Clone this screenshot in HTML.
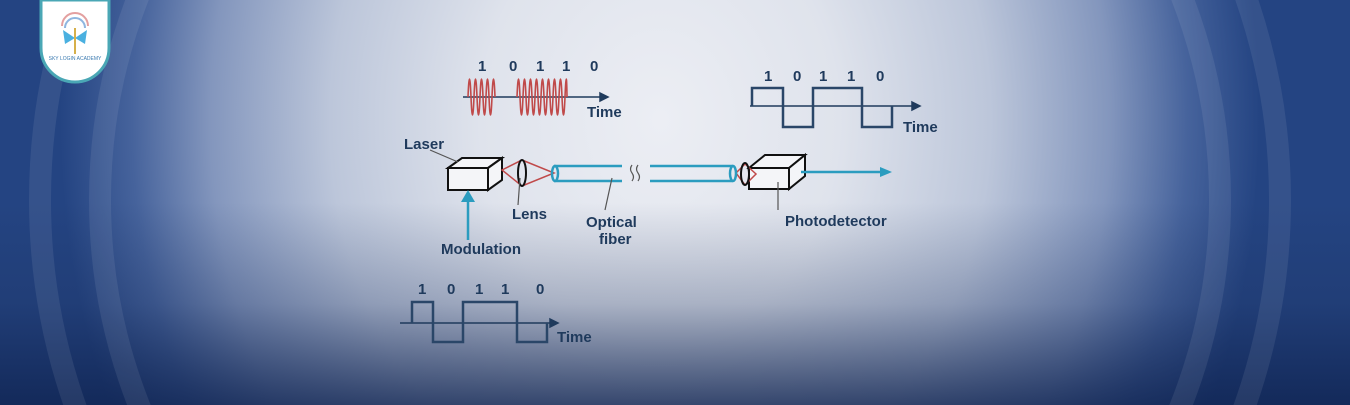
<!DOCTYPE html>
<html><head><meta charset="utf-8"><style>
body{margin:0;width:1350px;height:405px;overflow:hidden;font-family:"Liberation Sans",sans-serif;position:relative}
#bg{position:absolute;left:0;top:0;width:1350px;height:405px;
background:radial-gradient(ellipse 600px 720px at 660px 120px,#eceef4 0%,#dfe3ec 30%,#bcc6da 55%,#8396bd 75%,#46639c 88%,#244482 100%)}
#shade{position:absolute;left:0;top:0;width:1350px;height:405px;background:linear-gradient(to bottom,rgba(0,0,0,0) 50%,rgba(25,45,90,.28) 75%,rgba(15,35,80,.8) 100%)}
svg{position:absolute;left:0;top:0;overflow:hidden}
</style></head><body>
<div id="bg"></div><div id="shade"></div>
<svg width="1350" height="405" viewBox="0 0 1350 405">
<g fill="none" stroke="#ffffff" stroke-opacity=".08" stroke-width="22">
<ellipse cx="660" cy="200" rx="560" ry="560"/>
<ellipse cx="660" cy="200" rx="620" ry="620"/>
</g>
<!-- logo -->
<path d="M41 0 V48 A34 34 0 0 0 109 48 V0 Z" fill="#fff" stroke="#4aa7b5" stroke-width="3"/>
<path d="M62 26 A13 13 0 0 1 88 26" fill="none" stroke="#e3a0a0" stroke-width="2"/>
<path d="M65 28 A10 10 0 0 1 85 28" fill="none" stroke="#8fb6e0" stroke-width="2"/>
<path d="M75 38 l-12 -8 l2 14z M75 38 l12 -8 l-2 14z" fill="#4ab0e0"/>
<rect x="74" y="28" width="2" height="26" fill="#d6b04a"/>
<text x="75" y="60" font-size="5" text-anchor="middle" fill="#3a7ab0">SKY LOGIN ACADEMY</text>

<g font-weight="bold" fill="#1f3a5c" font-size="15">
<text x="478" y="71">1</text><text x="509" y="71">0</text><text x="536" y="71">1</text><text x="562" y="71">1</text><text x="590" y="71">0</text>
<text x="587" y="117">Time</text>
<text x="764" y="81">1</text><text x="793" y="81">0</text><text x="819" y="81">1</text><text x="847" y="81">1</text><text x="876" y="81">0</text>
<text x="903" y="132">Time</text>
<text x="418" y="294">1</text><text x="447" y="294">0</text><text x="475" y="294">1</text><text x="501" y="294">1</text><text x="536" y="294">0</text>
<text x="557" y="342">Time</text>
<text x="404" y="149">Laser</text>
<text x="512" y="219">Lens</text>
<text x="586" y="227">Optical</text><text x="599" y="244">fiber</text>
<text x="441" y="254">Modulation</text>
<text x="785" y="226">Photodetector</text>
</g>
<g stroke="#1f3a5c" fill="none" stroke-width="1.5">
<line x1="463" y1="97" x2="600" y2="97"/><path d="M600 93 L608 97 L600 101Z" fill="#1f3a5c"/>
<line x1="750" y1="106" x2="912" y2="106"/><path d="M912 102 L920 106 L912 110Z" fill="#1f3a5c"/>
<line x1="400" y1="323" x2="550" y2="323"/><path d="M550 319 L558 323 L550 327Z" fill="#1f3a5c"/>
</g>
<g stroke="#2a4668" fill="none" stroke-width="2.5">
<path d="M752 106 V88 H783 V127 H813 V88 H862 V127 H892 V106"/>
<path d="M412 323 V302 H433 V342 H463 V302 H517 V342 H547 V323"/>
</g>
<g stroke="#c04a4a" stroke-width="1.6" fill="none">
<path d="M468 97 q1.5 -36 3 0 t3 0 t3 0 t3 0 t3 0 t3 0 t3 0 t3 0 t3 0"/>
<path d="M517 97 q1.5 -36 3 0 t3 0 t3 0 t3 0 t3 0 t3 0 t3 0 t3 0 t3 0 t3 0 t3 0 t3 0 t3 0 t3 0 t3 0 t3 0 t2 0"/>
</g>
<g stroke="#111" stroke-width="2" fill="#f4f5f8">
<path d="M448 168 L462 158 H502 L488 168Z"/><path d="M488 168 L502 158 V180 L488 190Z"/>
<rect x="448" y="168" width="40" height="22"/>
<path d="M749 168 L765 155 H805 L789 168Z"/><path d="M789 168 L805 155 V176 L789 189Z"/>
<rect x="749" y="168" width="40" height="21"/>
</g>
<g stroke="#c04a4a" stroke-width="1.5" fill="none">
<path d="M502 170 L522 160 L554 173 L522 186 Z"/>
<path d="M736 173 L745 164 L756 174 L745 185 Z"/>
</g>
<g stroke="#111" stroke-width="2" fill="none">
<ellipse cx="522" cy="173" rx="4" ry="13"/><ellipse cx="745" cy="174" rx="4" ry="11"/>
</g>
<g stroke="#2b9cbf" stroke-width="2.5" fill="none">
<path d="M554 166 H622 M554 181 H622 M650 166 H733 M650 181 H733"/>
<ellipse cx="555" cy="173.5" rx="3" ry="7.5"/><ellipse cx="733" cy="173.5" rx="3" ry="7.5"/>
<path d="M801 172 H880"/>
<path d="M468 240 V200"/>
</g>
<path d="M880 167 L892 172 L880 177Z" fill="#2b9cbf"/>
<path d="M461 202 L468 190 L475 202Z" fill="#2b9cbf"/>
<g stroke="#555" stroke-width="1.2" fill="none">
<path d="M632 165 q-3 4 0 8 t0 8 M638 165 q-3 4 0 8 t0 8"/>
<path d="M430 150 L458 162 M518 205 L520 178 M605 210 L612 178 M778 210 L778 182"/>
</g>
</svg>
</body></html>
